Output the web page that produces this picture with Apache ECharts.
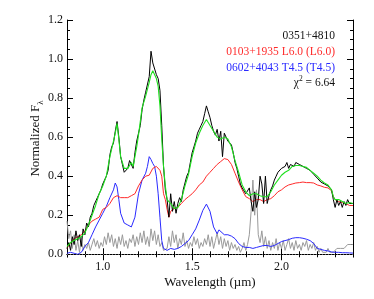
<!DOCTYPE html>
<html>
<head>
<meta charset="utf-8">
<script src="https://cdn.jsdelivr.net/npm/echarts@6/dist/echarts.min.js"></script>
<style>html,body{margin:0;padding:0;background:#fff}#c{width:374px;height:299px}</style>
</head>
<body>
<div id="c"></div>
<script>
// ---- data ----
const xMajorTicks = [1.0, 1.5, 2.0];
const xMinorTicks = [0.8,0.9,1.1,1.2,1.3,1.4,1.6,1.7,1.8,1.9,2.1,2.2,2.3,2.4];
const yMajorTicks = [0.0, 0.2, 0.4, 0.6, 0.8, 1.0, 1.2];
const yMinorTicks = [0.05,0.1,0.15,0.25,0.3,0.35,0.45,0.5,0.55,0.65,0.7,0.75,0.85,0.9,0.95,1.05,1.1,1.15];

const obsStart = 0.80, obsStep = 0.01;
// observed spectrum 0351+4810 (black), 0.80..2.40 step 0.01
const observed = [
0.03,0.06,0.02,0.09,0.05,0.12,0.07,0.10,0.04,0.13,
0.10,0.16,0.14,0.19,0.21,0.25,0.24,0.29,0.31,0.33,
0.36,0.35,0.40,0.43,0.51,0.55,0.57,0.63,0.68,0.60,
0.50,0.46,0.42,0.41,0.44,0.48,0.47,0.44,0.52,0.58,
0.62,0.66,0.74,0.79,0.83,0.84,0.91,1.04,0.98,0.99,
0.92,0.90,0.84,0.66,0.45,0.33,0.28,0.19,0.31,0.22,
0.27,0.21,0.26,0.29,0.27,0.33,0.34,0.40,0.42,0.47,
0.52,0.55,0.58,0.62,0.64,0.66,0.68,0.72,0.76,0.73,
0.70,0.66,0.63,0.61,0.64,0.58,0.63,0.50,0.62,0.60,
0.58,0.59,0.56,0.52,0.47,0.44,0.40,0.36,0.34,0.33,
0.31,0.30,0.34,0.27,0.22,0.32,0.24,0.28,0.40,0.36,
0.26,0.40,0.26,0.30,0.33,0.35,0.38,0.40,0.42,0.41,
0.44,0.43,0.45,0.47,0.44,0.46,0.47,0.45,0.47,0.46,
0.46,0.47,0.45,0.46,0.44,0.45,0.43,0.42,0.41,0.41,
0.39,0.39,0.37,0.38,0.36,0.36,0.35,0.34,0.33,0.28,
0.24,0.28,0.25,0.27,0.24,0.27,0.25,0.28,0.26,0.27,
0.26];
// difference spectrum (grey), 0.80..2.40 step 0.01
const residual = [
0.17,0.08,0.12,0.03,0.10,0.02,0.07,0.01,0.09,0.02,
0.05,0.03,0.06,0.02,0.05,0.08,0.04,0.07,0.03,0.06,
0.04,0.09,0.05,0.11,0.06,0.10,0.04,0.08,0.03,0.09,
0.05,0.10,0.04,0.07,0.03,0.08,0.06,0.10,0.04,0.09,
0.05,0.11,0.06,0.12,0.05,0.09,0.04,0.13,0.07,0.12,
0.05,0.10,0.04,0.06,0.02,0.01,0.03,0.09,0.04,0.12,
0.06,0.10,0.03,0.08,0.05,0.11,0.04,0.07,0.03,0.06,
0.04,0.09,0.05,0.08,0.03,0.06,0.04,0.08,0.05,0.10,
0.04,0.09,0.03,0.07,0.11,0.05,0.09,0.03,0.08,0.04,
0.07,0.02,0.06,0.03,0.05,0.02,0.04,0.01,0.03,0.06,
0.02,0.05,0.10,0.22,0.38,0.20,0.33,0.10,0.06,0.12,
0.04,0.09,0.03,0.07,0.02,0.06,0.03,0.08,0.02,0.06,
0.03,0.07,0.02,0.05,0.08,0.03,0.06,0.02,0.07,0.03,
0.05,0.02,0.06,0.04,0.07,0.02,0.05,0.03,0.06,0.02,
0.04,0.01,0.03,0.01,0.02,0.01,0.03,0.01,0.02,0.01,
0.02,0.03,0.02,0.03,0.04,0.03,0.04,0.05,0.04,0.05,
0.05];
// composite fit (green)
const fitPairs = [[0.80,0.04],[0.82,0.06],[0.84,0.07],[0.86,0.08],[0.88,0.09],[0.90,0.11],[0.92,0.15],[0.94,0.20],[0.96,0.25],[0.98,0.31],[1.00,0.35],[1.02,0.40],[1.04,0.50],[1.06,0.58],[1.07,0.62],[1.08,0.67],[1.09,0.59],[1.10,0.50],[1.12,0.44],[1.14,0.44],[1.16,0.47],[1.17,0.45],[1.19,0.55],[1.20,0.61],[1.22,0.75],[1.24,0.81],[1.26,0.88],[1.27,0.92],[1.28,0.94],[1.30,0.90],[1.31,0.86],[1.32,0.76],[1.33,0.59],[1.34,0.45],[1.35,0.35],[1.36,0.28],[1.38,0.26],[1.40,0.235],[1.42,0.24],[1.44,0.28],[1.46,0.35],[1.48,0.41],[1.50,0.50],[1.52,0.57],[1.54,0.62],[1.56,0.66],[1.58,0.69],[1.60,0.66],[1.62,0.63],[1.64,0.60],[1.66,0.59],[1.68,0.60],[1.70,0.59],[1.72,0.55],[1.74,0.48],[1.76,0.42],[1.78,0.355],[1.80,0.32],[1.82,0.30],[1.84,0.31],[1.86,0.31],[1.88,0.30],[1.90,0.295],[1.92,0.295],[1.94,0.32],[1.96,0.355],[1.98,0.38],[2.00,0.405],[2.02,0.42],[2.04,0.43],[2.06,0.45],[2.08,0.455],[2.10,0.455],[2.12,0.45],[2.14,0.445],[2.16,0.43],[2.18,0.415],[2.20,0.40],[2.22,0.38],[2.24,0.365],[2.26,0.355],[2.28,0.33],[2.29,0.295],[2.30,0.28],[2.32,0.28],[2.34,0.27],[2.36,0.26],[2.38,0.265],[2.40,0.26]];
// L6.0 template 0103+1935 (red)
const lPairs = [[0.80,0.03],[0.82,0.06],[0.84,0.08],[0.86,0.09],[0.88,0.10],[0.90,0.12],[0.92,0.15],[0.94,0.17],[0.96,0.18],[0.98,0.19],[1.00,0.23],[1.02,0.24],[1.04,0.26],[1.06,0.29],[1.08,0.30],[1.10,0.29],[1.12,0.29],[1.14,0.29],[1.16,0.30],[1.18,0.31],[1.20,0.35],[1.22,0.38],[1.24,0.40],[1.26,0.405],[1.28,0.44],[1.30,0.45],[1.31,0.45],[1.32,0.43],[1.33,0.40],[1.34,0.31],[1.35,0.28],[1.36,0.23],[1.37,0.19],[1.38,0.22],[1.40,0.235],[1.42,0.24],[1.44,0.26],[1.46,0.28],[1.48,0.295],[1.50,0.31],[1.52,0.33],[1.54,0.355],[1.56,0.37],[1.58,0.40],[1.60,0.42],[1.62,0.44],[1.64,0.46],[1.66,0.475],[1.68,0.49],[1.69,0.50],[1.70,0.485],[1.72,0.46],[1.74,0.415],[1.76,0.37],[1.78,0.33],[1.80,0.295],[1.82,0.285],[1.84,0.27],[1.86,0.28],[1.88,0.28],[1.90,0.27],[1.92,0.28],[1.94,0.285],[1.96,0.30],[1.98,0.32],[2.00,0.33],[2.02,0.345],[2.04,0.355],[2.06,0.36],[2.08,0.365],[2.10,0.367],[2.12,0.37],[2.14,0.367],[2.16,0.367],[2.18,0.365],[2.20,0.355],[2.22,0.35],[2.24,0.343],[2.26,0.34],[2.28,0.325],[2.29,0.295],[2.30,0.28],[2.32,0.27],[2.34,0.265],[2.36,0.26],[2.38,0.25],[2.40,0.25]];
// T4.5 template 0602+4043 (blue)
const tPairs = [[0.80,0.005],[0.82,0.01],[0.84,0.005],[0.86,0.0],[0.88,0.01],[0.90,0.04],[0.92,0.06],[0.94,0.10],[0.96,0.14],[0.98,0.175],[1.00,0.21],[1.02,0.245],[1.04,0.29],[1.06,0.33],[1.07,0.365],[1.08,0.345],[1.09,0.28],[1.10,0.21],[1.12,0.16],[1.14,0.15],[1.16,0.14],[1.17,0.15],[1.18,0.19],[1.20,0.31],[1.22,0.38],[1.24,0.415],[1.25,0.45],[1.26,0.50],[1.27,0.485],[1.28,0.465],[1.29,0.45],[1.30,0.40],[1.31,0.31],[1.32,0.19],[1.33,0.07],[1.34,0.03],[1.36,0.02],[1.38,0.03],[1.40,0.025],[1.42,0.03],[1.44,0.04],[1.46,0.055],[1.48,0.07],[1.50,0.10],[1.52,0.13],[1.54,0.175],[1.56,0.225],[1.58,0.257],[1.60,0.22],[1.62,0.14],[1.64,0.105],[1.65,0.125],[1.66,0.12],[1.68,0.10],[1.70,0.10],[1.72,0.093],[1.74,0.08],[1.76,0.055],[1.78,0.04],[1.80,0.035],[1.82,0.035],[1.84,0.03],[1.86,0.035],[1.88,0.04],[1.90,0.045],[1.92,0.045],[1.94,0.04],[1.96,0.045],[1.98,0.055],[2.00,0.065],[2.02,0.07],[2.04,0.075],[2.06,0.082],[2.08,0.085],[2.10,0.085],[2.12,0.082],[2.14,0.077],[2.16,0.07],[2.18,0.055],[2.20,0.03],[2.22,0.025],[2.24,0.02],[2.26,0.017],[2.28,0.012],[2.30,0.01],[2.32,0.01],[2.34,0.008],[2.36,0.008],[2.38,0.007],[2.40,0.006]];

const legendLines = ['0351+4810', '0103+1935 L6.0 (L6.0)', '0602+4043 T4.5 (T4.5)'];
const chiSq = '6.64';

// ---- chart ----
const FONT = "'Liberation Serif','DejaVu Serif',serif";
const toPairs = arr => arr.map((v, i) => [+(obsStart + i * obsStep).toFixed(2), v]);
const chart = echarts.init(document.getElementById('c'), null, {renderer: 'canvas'});
const axLine = {show: true, lineStyle: {color: '#000', width: 1}};
const xBase = {type: 'value', min: 0.8, max: 2.4, splitLine: {show: false}, gridIndex: 0};
const yBase = {type: 'value', min: -0.014, max: 1.2, splitLine: {show: false}, gridIndex: 0};
const mk = (base, pos, vals, len, labels, extra) => Object.assign({}, base, {
  position: pos,
  axisLine: labels !== null ? axLine : {show: false},
  axisTick: {show: true, inside: true, length: len, customValues: vals, lineStyle: {color: '#000', width: 1}},
  axisLabel: labels ? labels : {show: false}
}, extra || {});

const option = {
  backgroundColor: '#fff',
  animation: false,
  grid: {left: 67, right: 21, top: 20, bottom: 42},
  xAxis: [
    mk(xBase, 'bottom', xMajorTicks, 6, {show: true, customValues: xMajorTicks, formatter: v => v.toFixed(1), color: '#111', fontFamily: FONT, fontSize: 12, margin: 4},
      {name: 'Wavelength (µm)', nameLocation: 'middle', nameGap: 19, nameMoveOverlap: false, nameTextStyle: {color: '#111', fontFamily: FONT, fontSize: 13}}),
    mk(xBase, 'bottom', xMinorTicks, 3, null),
    mk(xBase, 'top', xMajorTicks, 6, false),
    mk(xBase, 'top', xMinorTicks, 3, null)
  ],
  yAxis: [
    mk(yBase, 'left', yMajorTicks, 6, {show: true, customValues: yMajorTicks, formatter: v => v.toFixed(1), color: '#111', fontFamily: FONT, fontSize: 12, margin: 4},
      {name: '{a|Normalized F}{b|λ}', nameLocation: 'middle', nameGap: 22, nameMoveOverlap: false,
       nameTextStyle: {color: '#111', fontFamily: FONT, fontSize: 13,
         rich: {a: {fontFamily: FONT, fontSize: 13, lineHeight: 18, color: '#111', verticalAlign: 'middle'},
                b: {fontFamily: FONT, fontSize: 9, lineHeight: 9, color: '#111', verticalAlign: 'bottom'}}}}),
    mk(yBase, 'left', yMinorTicks, 3, null),
    mk(yBase, 'right', yMajorTicks, 6, false),
    mk(yBase, 'right', yMinorTicks, 3, null)
  ],
  series: [
    {type: 'line', name: 'residual', data: toPairs(residual), showSymbol: false, symbol: 'none',
     lineStyle: {color: '#9a9a9a', width: 1}, z: 2,
     markLine: {silent: true, symbol: ['none', 'none'], label: {show: false},
       lineStyle: {color: '#666', type: [1, 2], width: 1}, data: [{yAxis: 0}]}},
    {type: 'line', name: 'T', data: tPairs, showSymbol: false, symbol: 'none', lineStyle: {color: '#2a2aff', width: 1}, z: 3},
    {type: 'line', name: 'L', data: lPairs, showSymbol: false, symbol: 'none', lineStyle: {color: '#ff2a2a', width: 1}, z: 4},
    {type: 'line', name: 'obs', data: toPairs(observed), showSymbol: false, symbol: 'none', lineStyle: {color: '#000', width: 1}, z: 5},
    {type: 'line', name: 'fit', data: fitPairs, showSymbol: false, symbol: 'none', lineStyle: {color: '#1ee01e', width: 1.1}, z: 6}
  ],
  graphic: [
    {type: 'text', x: 335, y: 36, style: {text: legendLines[0], fill: '#111', font: "11.5px " + FONT, align: 'right', verticalAlign: 'middle'}},
    {type: 'text', x: 335, y: 52, style: {text: legendLines[1], fill: '#ff2a2a', font: "11.5px " + FONT, align: 'right', verticalAlign: 'middle'}},
    {type: 'text', x: 335, y: 68, style: {text: legendLines[2], fill: '#2a2aff', font: "11.5px " + FONT, align: 'right', verticalAlign: 'middle'}},
    {type: 'text', x: 335, y: 83, style: {text: '{a|χ}{s|2}{a| = ' + chiSq + '}', fill: '#111', align: 'right', verticalAlign: 'middle',
      rich: {a: {fontFamily: FONT, fontSize: 11.5, lineHeight: 16, fill: '#111', verticalAlign: 'middle'},
             s: {fontFamily: FONT, fontSize: 7.5, lineHeight: 8, fill: '#111', verticalAlign: 'top'}}}}
  ]
};
chart.setOption(option);
</script>
</body>
</html>
